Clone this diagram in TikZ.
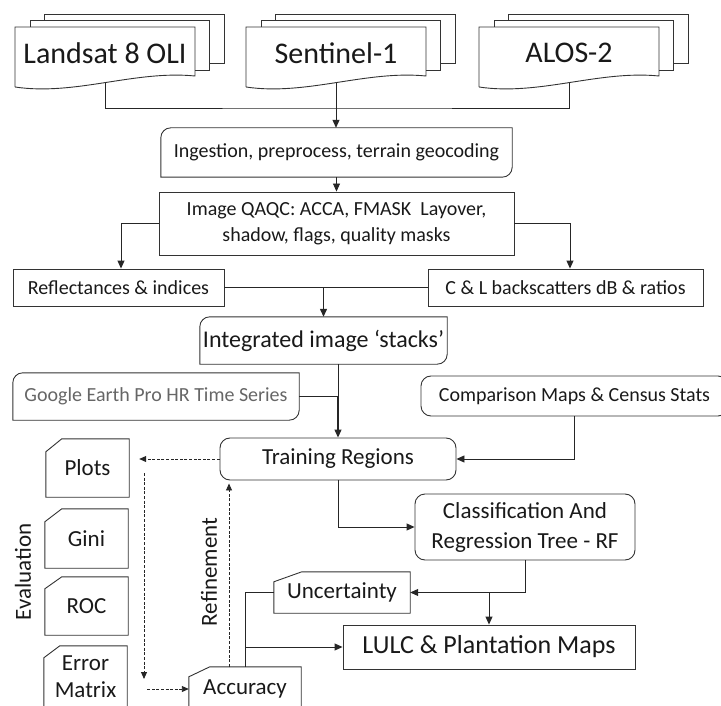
\documentclass[tikz,border=0pt]{standalone}
\usepackage{fontspec}
\setmainfont{Carlito}
\usetikzlibrary{
    arrows.meta,
    calc
}

% stack of three pages: name, left edge of front page, label
\newcommand{\docstack}[3]{%
    \draw[boxedge] (#2+29,20) -- (#2+29,14) -- (#2+209,14) -- (#2+209,63) -- (#2+194,63);
    \draw[boxedge] (#2+15,27) -- (#2+15,20) -- (#2+194,20) -- (#2+194,70) -- (#2+180,70);
    \draw[boxedge] (#2,87) -- (#2,27) -- (#2+180,27) -- (#2+180,76)
        .. controls (#2+120,70) and (#2+60,96) .. coordinate[pos=.5] (#1 bot) (#2,87);
    \node[txtL] (#1) at (#2+90,53) {#3};
}
% box with rounded top left and bottom right corners
\newcommand{\rdiag}[2]{%
    \draw[boxedge] ([yshift=-#2]#1.north west) arc[start angle=180, end angle=90, radius=#2]
        -- (#1.north east) -- ([yshift=#2]#1.south east)
        arc[start angle=0, end angle=-90, radius=#2] -- (#1.south west) -- cycle;
}
% box with snipped top left corner
\newcommand{\snipbox}[3]{%
    \draw[boxedge] ([yshift=-#3]#1.north west) -- ([xshift=#2]#1.north west)
        -- (#1.north east) -- (#1.south east) -- (#1.south west) -- cycle;
}

\begin{document}
\begin{tikzpicture}[x=1pt, y=-1pt,
    boxedge/.style={draw=black!80, line width=0.9pt},
    plainbox/.style={boxedge},
    roundbox/.style={boxedge, rounded corners=10pt},
    wire/.style={draw=black!85, line width=0.9pt},
    wirearrow/.style={wire, -{Triangle[length=8pt,width=7pt]}},
    evalarrow/.style={wire, dash pattern=on 3pt off 1.6pt, -{Triangle[length=7pt,width=6pt]}},
    txtS/.style={inner sep=0pt, align=center, text=black!90, font=\fontsize{20}{26}\selectfont},
    txtM/.style={inner sep=0pt, align=center, text=black!90, font=\fontsize{23}{30}\selectfont},
    txtL/.style={inner sep=0pt, align=center, text=black!90, font=\fontsize{30}{36}\selectfont}
]
    \useasboundingbox (0,0) rectangle (721,706);
    \clip (0,0) rectangle (721,706);

    % sources
    \docstack{land}{15}{Landsat 8 OLI}
    \docstack{sen}{246}{Sentinel-1}
    \docstack{alos}{479}{ALOS-2}

    % preprocessing
    \node[txtS, minimum width=351pt, minimum height=49pt] (ing) at (336.5,152.5) {Ingestion, preprocess, terrain geocoding};
    \rdiag{ing}{10pt}
    \node[txtS, plainbox, minimum width=355pt, minimum height=63pt] (qaqc) at (336.5,223.5)
        {Image QAQC: ACCA, FMASK\ \ Layover,\\shadow, flags, quality masks};
    \node[txtS, plainbox, minimum width=211pt, minimum height=37pt] (refl) at (118.5,287.5) {Reflectances \& indices};
    \node[txtS, plainbox, minimum width=275pt, minimum height=37pt] (cl) at (565.5,287.5) {C \& L backscatters dB \& ratios};
    \node[txtM, font=\fontsize{24}{28}\selectfont, minimum width=247pt, minimum height=47pt] (integ) at (323.5,340.5) {Integrated image ‘stacks’};
    \rdiag{integ}{10pt}

    % training and classification
    \node[txtS, text=black!60, minimum width=286pt, minimum height=47pt] (google) at (156,396.5) {Google Earth Pro HR Time Series};
    \rdiag{google}{10pt}
    \node[txtS, roundbox, minimum width=307pt, minimum height=40pt] (comp) at (574.5,396) {Comparison Maps \& Census Stats};
    \node[txtM, roundbox, minimum width=236pt, minimum height=42pt] (train) at (338,459) {Training Regions};
    \node[txtM, roundbox, minimum width=220pt, minimum height=66pt] (cart) at (525,527) {Classification And\\Regression Tree - RF};
    \node[txtM, minimum width=136pt, minimum height=41pt] (unc) at (342,592.5) {Uncertainty};
    \snipbox{unc}{28pt}{10pt}
    \node[txtM, font=\fontsize{26}{30}\selectfont, plainbox, minimum width=292pt, minimum height=44pt] (lulc) at (489,647) {LULC \& Plantation Maps};

    % evaluation
    \node[txtM, minimum width=83pt, minimum height=58pt] (plots) at (87.5,468) {Plots};
    \snipbox{plots}{16pt}{13pt}
    \node[txtM, minimum width=83pt, minimum height=59pt] (gini) at (86.5,538.5) {Gini};
    \snipbox{gini}{17pt}{13pt}
    \node[txtM, minimum width=83pt, minimum height=58pt] (roc) at (86.5,606) {ROC};
    \snipbox{roc}{17pt}{12pt}
    \node[txtM, font=\fontsize{23}{27}\selectfont, minimum width=83pt, minimum height=62pt] (err) at (85.5,677) {Error\\Matrix};
    \snipbox{err}{16pt}{12pt}
    \node[txtM, minimum width=112pt, minimum height=44pt] (acc) at (245,689) {Accuracy};
    \snipbox{acc}{21pt}{10pt}
    \node[txtM, rotate=90] (evlab) at (23,572) {Evaluation};
    \node[txtM, rotate=90] (rflab) at (209,572) {Refinement};

    % connectors
    \coordinate (bus) at (337,108);
    \draw[wire] (land bot) |- (bus) -| (alos bot);
    \draw[wirearrow] (sen bot) -- (sen bot |- ing.north);
    \draw[wirearrow] (ing.south) -- (qaqc.north);
    \draw[wirearrow] (qaqc.west) -| ([xshift=2.5pt]refl.north);
    \draw[wirearrow] (qaqc.east) -| ([xshift=4.5pt]cl.north);
    \draw[wire] (refl.east) -- (cl.west);
    \draw[wirearrow, line width=1.3pt] (refl.east -| integ.north) -- (integ.north);
    \draw[wire] (integ.south -| train.north) -- (google.east -| train.north);
    \draw[wire] (google.east) -- (google.east -| train.north);
    \draw[wirearrow, line width=1.3pt] (google.east -| train.north) -- (train.north);
    \draw[wirearrow] (comp.south) |- (train.east);
    \draw[wirearrow] (train.south) |- (cart.west);
    \draw[wirearrow] (cart.south) |- (unc.east);
    \draw[wirearrow] (lulc.north |- unc.east) -- (lulc.north);
    \draw[wire] (acc.north) |- (unc.west);
    \draw[wirearrow] (acc.north |- lulc.west) -- (lulc.west);

    % evaluation loop
    \coordinate (evtop) at (144,473);
    \coordinate (evbot) at (144,679);
    \coordinate (rfstart) at (229,667);
    \draw[evalarrow] (train.west) -- ($(plots.east |- train.west)+(10,0)$);
    \draw[evalarrow] (evtop) -- (evbot);
    \draw[evalarrow] ($(err.east |- acc.west)+(20,0)$) -- (acc.west);
    \draw[evalarrow] (rfstart) -- ($(rfstart |- train.south)+(0,3)$);
\end{tikzpicture}
\end{document}
